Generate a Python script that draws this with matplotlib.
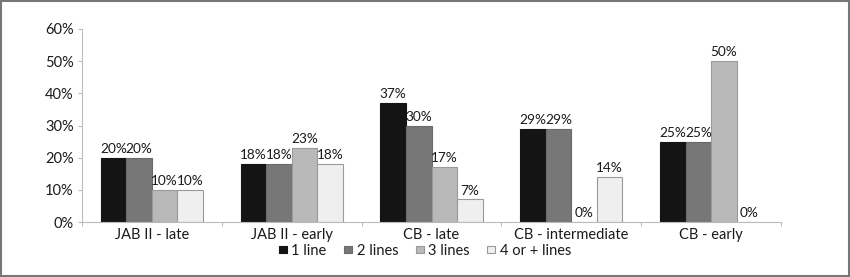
import matplotlib
matplotlib.use("Agg")
import matplotlib.pyplot as plt
import numpy as np

categories = ["JAB II - late", "JAB II - early", "CB - late", "CB - intermediate", "CB - early"]
series_names = ["1 line", "2 lines", "3 lines", "4 or + lines"]
one_line = [20, 18, 37, 29, 25]
two_lines = [20, 18, 30, 29, 25]
three_lines = [10, 23, 17, 0, 50]
four_plus_lines = [10, 18, 7, 14, 0]
y_ticks = [0, 10, 20, 30, 40, 50, 60]

series = [one_line, two_lines, three_lines, four_plus_lines]
colors = ["#141414", "#777777", "#b9b9b9", "#efefef"]
edges = ["#141414", "#6a6a6a", "#9a9a9a", "#9a9a9a"]

plt.rcParams['font.family'] = ['Lato', 'DejaVu Sans']
FS = 10.5
LFS = 9.8

fig = plt.figure(figsize=(8.5, 2.77), dpi=100)
ax = fig.add_axes([82/850, 1-222/277, (781-82)/850, (222-29)/277])

n = len(categories)
x = np.arange(n)
group_frac = 0.73
w = group_frac / 4
for i, (vals, c, ec, name) in enumerate(zip(series, colors, edges, series_names)):
    pos = x - group_frac/2 + w/2 + i*w
    ax.bar(pos, vals, width=w, color=c, edgecolor=ec, linewidth=0.8, label=name)
    for p, v in zip(pos, vals):
        ax.text(p, v + 0.9, f"{v}%", ha='center', va='bottom', fontsize=LFS, color='#1a1a1a')

ax.set_xlim(-0.5, n - 0.5)
ax.set_ylim(0, 60)
ax.set_yticks(y_ticks)
ax.set_yticklabels([f"{t}%" for t in y_ticks], fontsize=FS, color='#1a1a1a')
ax.set_xticks(x)
ax.set_xticklabels(categories, fontsize=FS, color='#1a1a1a')
ax.tick_params(axis='x', length=0, pad=4)
ax.set_xticks(np.arange(n + 1) - 0.5, minor=True)
ax.tick_params(axis='x', which='minor', length=3, color='#bbbbbb', width=0.8)
ax.tick_params(axis='y', length=3, color='#bbbbbb', width=0.8, pad=3)

for s in ['top', 'right']:
    ax.spines[s].set_visible(False)
for s in ['left', 'bottom']:
    ax.spines[s].set_color('#bbbbbb')
    ax.spines[s].set_linewidth(0.8)

leg = fig.legend(loc='center', bbox_to_anchor=(425/850, 1-251/277), ncol=4, frameon=False,
                 fontsize=FS, handlelength=0.55, handleheight=0.4, handletextpad=0.3,
                 columnspacing=1.2)
for t in leg.get_texts():
    t.set_color('#1a1a1a')

border = plt.Rectangle((0.001, 0.002), 0.998, 0.996, transform=fig.transFigure,
                       fill=False, edgecolor='#777777', linewidth=1.5)
fig.patches.append(border)

fig.savefig("out.png", dpi=100)
